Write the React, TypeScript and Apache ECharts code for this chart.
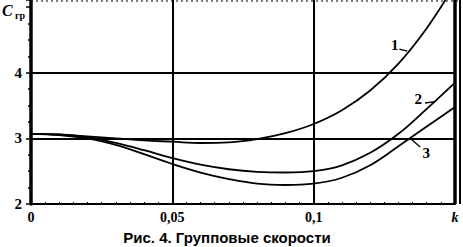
import React, { useEffect, useRef } from "react";
import * as echarts from "echarts";

const kValues = [0, 0.01, 0.02, 0.03, 0.04, 0.05, 0.06, 0.07, 0.08, 0.09, 0.1, 0.11, 0.12, 0.13, 0.14, 0.15];
const curve1 = [3.07, 3.06, 3.03, 3.0, 2.97, 2.95, 2.93, 2.94, 2.99, 3.08, 3.22, 3.43, 3.73, 4.14, 4.68, 5.35];
const curve2 = [3.07, 3.06, 3.02, 2.93, 2.82, 2.7, 2.6, 2.53, 2.49, 2.48, 2.5, 2.59, 2.78, 3.07, 3.45, 3.85];
const curve3 = [3.07, 3.05, 3.0, 2.9, 2.76, 2.61, 2.48, 2.38, 2.31, 2.29, 2.31, 2.4, 2.59, 2.88, 3.18, 3.48];
const curveNames = ["1", "2", "3"];
const xTicks = ["0", "0,05", "0,1", "k"];
const yTicks = ["2", "3", "4"];
const hLines = [3, 4];
const vLines = [0.05, 0.1, 0.15];
// annotation anchors (data coords): text centre, leader start, leader end
const labelAt = [
  [0.1287, 4.43],
  [0.137, 3.6],
  [0.1398, 2.78],
];
const leaderFrom = [
  [0.1303, 4.36],
  [0.1394, 3.54],
  [0.1377, 2.87],
];
const leaderTo = [
  [0.1331, 4.33],
  [0.143, 3.56],
  [0.1342, 3.0],
];
const caption = "Рис. 4. Групповые скорости";

const SERIF = '"Liberation Serif", "DejaVu Serif", serif';
const SANS = '"Liberation Sans", Arial, sans-serif';

export default function App() {
  const ref = useRef<HTMLDivElement>(null);
  useEffect(() => {
    if (!ref.current) return;
    const chart = echarts.init(ref.current, null, { renderer: "svg" });
    const curves = [curve1, curve2, curve3];
    const tickIndex = (v: number) => Math.round(v / 0.05);
    chart.setOption({
      animation: false,
      backgroundColor: "#fff",
      grid: { left: 31, right: 8, top: 0, bottom: 43, containLabel: false },
      xAxis: {
        type: "value",
        min: 0,
        max: 0.15,
        interval: 0.05,
        axisLine: { show: true, onZero: false, lineStyle: { color: "#000", width: 2 } },
        axisTick: { show: true, inside: true, length: 4, lineStyle: { color: "#000", width: 1.5 } },
        minorTick: { show: true, splitNumber: 10, length: 2, lineStyle: { color: "#000", width: 1 } },
        splitLine: { show: false },
        axisLabel: {
          margin: 6,
          color: "#000",
          fontFamily: SERIF,
          fontWeight: "bold",
          fontSize: 14,
          formatter: (v: number) => {
            const i = tickIndex(v);
            return i === 3 ? "{k|" + xTicks[i] + "}" : xTicks[i] ?? "";
          },
          rich: { k: { fontStyle: "italic", fontFamily: SERIF, fontWeight: "bold", fontSize: 14, color: "#000" } },
        },
      },
      yAxis: {
        type: "value",
        min: 2,
        max: 5.11,
        interval: 1,
        axisLine: { show: true, onZero: false, lineStyle: { color: "#000", width: 3.5 } },
        axisTick: { show: true, inside: false, length: 5, lineStyle: { color: "#000", width: 1.5 } },
        minorTick: { show: true, splitNumber: 4, length: 3, lineStyle: { color: "#000", width: 1.5 } },
        splitLine: { show: false },
        axisLabel: {
          margin: 9,
          color: "#000",
          fontFamily: SERIF,
          fontWeight: "bold",
          fontSize: 15,
          formatter: (v: number) => {
            const i = Math.round(v - 2);
            return yTicks[i] ?? "";
          },
        },
      },
      series: curves.map((c, si) => ({
        type: "line",
        name: curveNames[si],
        data: kValues.map((k, i) => [k, c[i]]),
        showSymbol: false,
        smooth: 0.4,
        clip: true,
        lineStyle: { color: "#000", width: 1.8 },
        markLine:
          si === 0
            ? {
                silent: true,
                symbol: "none",
                label: { show: false },
                lineStyle: { color: "#000", width: 2, type: "solid" },
                data: [
                  ...vLines.map((x, i) => ({
                    xAxis: x,
                    lineStyle: { color: "#000", width: i === vLines.length - 1 ? 3.5 : 2, type: "solid" },
                  })),
                  ...hLines.map((y) => ({ yAxis: y })),
                ],
              }
            : undefined,
      })),
    });

    const px = (p: number[]) => chart.convertToPixel({ gridIndex: 0 }, p) as number[];
    const right = px([0.15, 2]);
    const top = px([0, 5.11]);
    const graphics: any[] = [];
    graphics.push({
      type: "line",
      shape: { x1: right[0] + 5, y1: top[1], x2: right[0] + 5, y2: right[1] },
      style: { stroke: "#000", lineWidth: 2 },
    });
    graphics.push({
      type: "line",
      shape: { x1: top[0], y1: 1, x2: right[0] + 5, y2: 1 },
      style: { stroke: "#555", lineWidth: 1.5, lineDash: [2, 3] },
    });
    curveNames.forEach((name, i) => {
      const t = px(labelAt[i]);
      const a = px(leaderFrom[i]);
      const b = px(leaderTo[i]);
      graphics.push({
        type: "text",
        x: t[0],
        y: t[1],
        style: {
          text: name,
          fill: "#000",
          font: `bold 15px ${SERIF}`,
          textAlign: "center",
          textVerticalAlign: "middle",
        },
      });
      graphics.push({
        type: "line",
        shape: { x1: a[0], y1: a[1], x2: b[0], y2: b[1] },
        style: { stroke: "#000", lineWidth: 1.3 },
      });
    });
    graphics.push({
      type: "text",
      x: 2,
      y: 2,
      style: { text: "C", fill: "#000", font: `italic bold 16px ${SERIF}` },
    });
    graphics.push({
      type: "text",
      x: 15,
      y: 10,
      style: { text: "гр", fill: "#000", font: `bold 10px ${SERIF}` },
    });
    graphics.push({
      type: "text",
      x: 227,
      y: 237,
      style: {
        text: caption,
        fill: "#000",
        font: `bold 15px ${SANS}`,
        textAlign: "center",
        textVerticalAlign: "middle",
      },
    });
    chart.setOption({ graphic: graphics });
    return () => chart.dispose();
  }, []);
  return (
    <div
      ref={ref}
      style={{ position: "fixed", left: 0, top: 0, width: 463, height: 247, background: "#fff" }}
    />
  );
}
